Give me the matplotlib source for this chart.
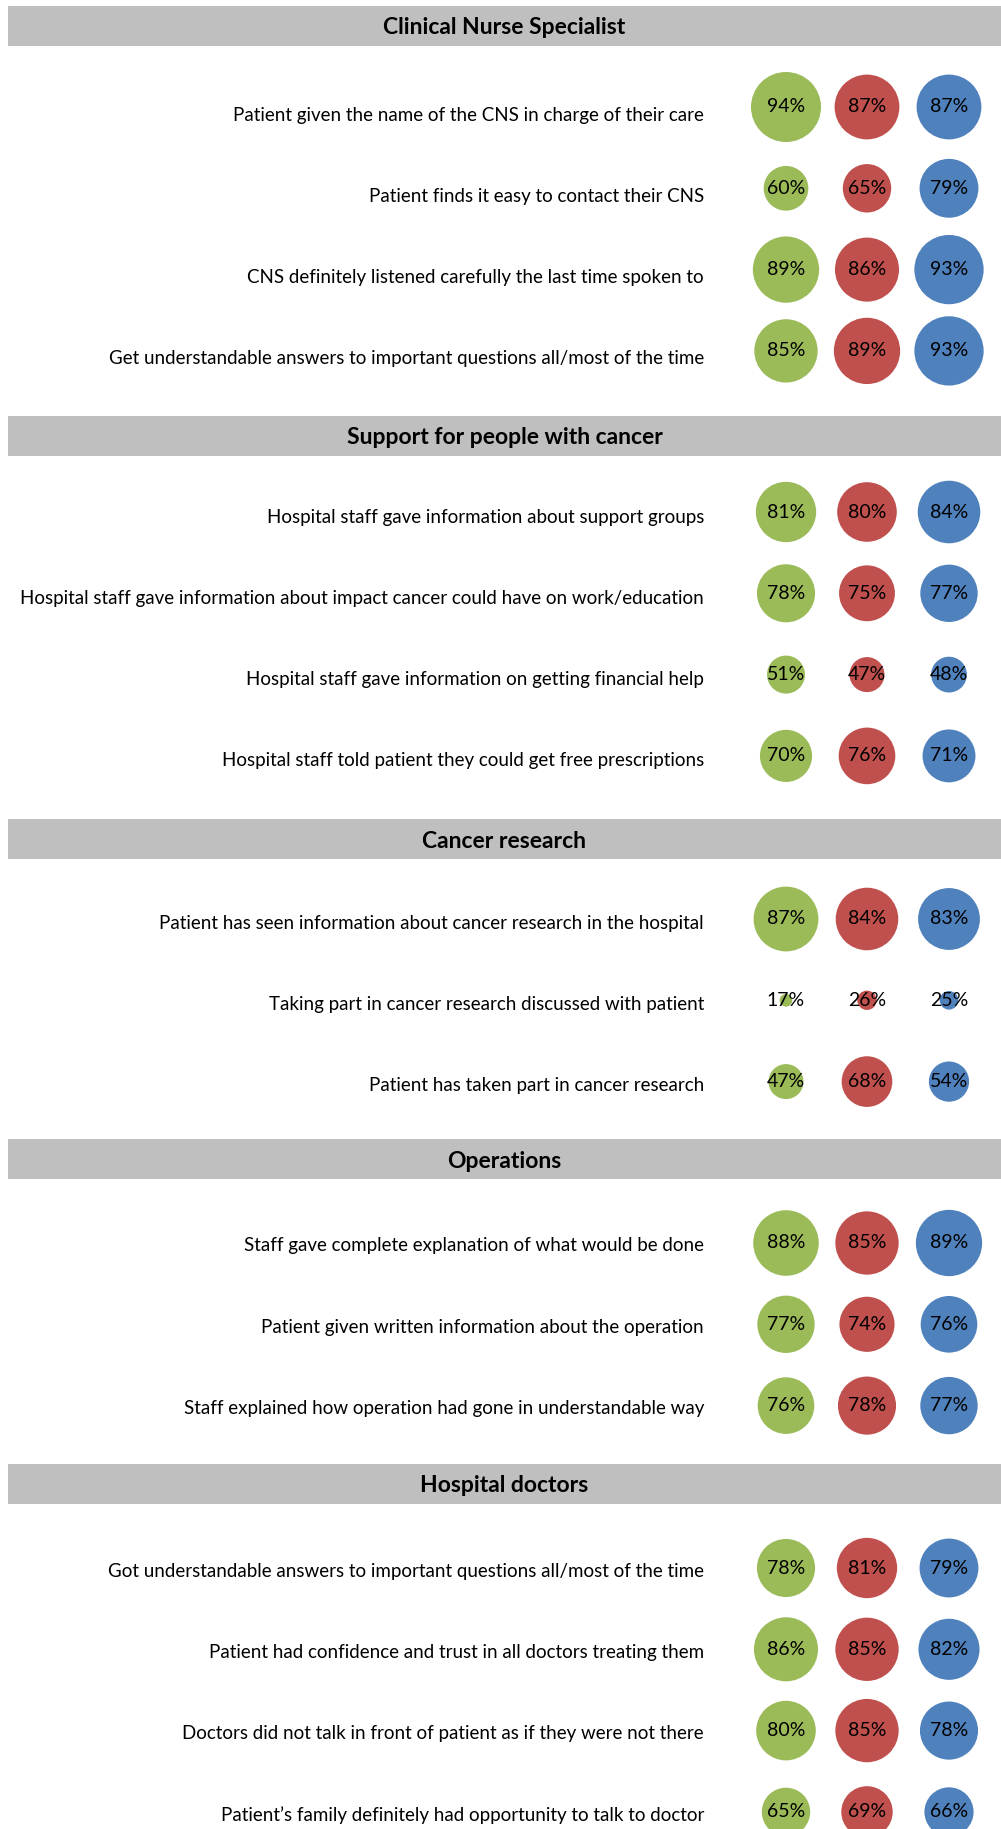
import matplotlib
matplotlib.use("Agg")
import matplotlib.pyplot as plt

# ---------------- data ----------------
sections = [
    "Clinical Nurse Specialist",
    "Support for people with cancer",
    "Cancer research",
    "Operations",
    "Hospital doctors",
]

labels_cns = [
    "Patient given the name of the CNS in charge of their care",
    "Patient finds it easy to contact their CNS",
    "CNS definitely listened carefully the last time spoken to",
    "Get understandable answers to important questions all/most of the time",
]
labels_support = [
    "Hospital staff gave information about support groups",
    "Hospital staff gave information about impact cancer could have on work/education",
    "Hospital staff gave information on getting financial help",
    "Hospital staff told patient they could get free prescriptions",
]
labels_research = [
    "Patient has seen information about cancer research in the hospital",
    "Taking part in cancer research discussed with patient",
    "Patient has taken part in cancer research",
]
labels_operations = [
    "Staff gave complete explanation of what would be done",
    "Patient given written information about the operation",
    "Staff explained how operation had gone in understandable way",
]
labels_doctors = [
    "Got understandable answers to important questions all/most of the time",
    "Patient had confidence and trust in all doctors treating them",
    "Doctors did not talk in front of patient as if they were not there",
    "Patient\u2019s family definitely had opportunity to talk to doctor",
]

green_cns = [94, 60, 89, 85]
red_cns = [87, 65, 86, 89]
blue_cns = [87, 79, 93, 93]

green_support = [81, 78, 51, 70]
red_support = [80, 75, 47, 76]
blue_support = [84, 77, 48, 71]

green_research = [87, 17, 47]
red_research = [84, 26, 68]
blue_research = [83, 25, 54]

green_operations = [88, 77, 76]
red_operations = [85, 74, 78]
blue_operations = [89, 76, 77]

green_doctors = [78, 86, 80, 65]
red_doctors = [81, 85, 85, 69]
blue_doctors = [79, 82, 78, 66]

section_labels = [labels_cns, labels_support, labels_research, labels_operations, labels_doctors]
section_green = [green_cns, green_support, green_research, green_operations, green_doctors]
section_red = [red_cns, red_support, red_research, red_operations, red_doctors]
section_blue = [blue_cns, blue_support, blue_research, blue_operations, blue_doctors]

# ---------------- layout / style ----------------
W, H, DPI = 1001, 1829, 100
header_tops = [6, 416, 819, 1139, 1464]
first_row_offset = [101, 96, 100, 104, 104]
label_dy = [8, 5, 4, 3, 3]
row_pitch = 81.3
header_h = 40
header_left = 8
label_right = 704
header_text_dy = 2
series_x = [786, 867, 949]
series_colors = ["#9bbb59", "#c0504d", "#4f81bd"]
px_per_point = 0.745  # bubble diameter (px) per percentage point

FONT = ["Lato", "DejaVu Sans"]
LABEL_SIZE = 13.5
PCT_SIZE = 14
HEAD_SIZE = 16.5

fig = plt.figure(figsize=(W / DPI, H / DPI), dpi=DPI)
ax = fig.add_axes([0, 0, 1, 1])
ax.set_xlim(0, W)
ax.set_ylim(H, 0)
ax.axis("off")


def size_from_value(v):
    d_pt = v * px_per_point * 72.0 / DPI
    return d_pt ** 2


for si, title in enumerate(sections):
    top = header_tops[si]
    ax.barh(top + header_h / 2, W - header_left, left=header_left, height=header_h,
            color="#bfbfbf", linewidth=0)
    ax.text((header_left + W) / 2, top + header_h / 2 + header_text_dy, title,
            ha="center", va="center", fontsize=HEAD_SIZE, fontweight="bold",
            family=FONT, color="black")
    labels = section_labels[si]
    series = [section_green[si], section_red[si], section_blue[si]]
    ys = [top + first_row_offset[si] + i * row_pitch for i in range(len(labels))]
    for y, lab in zip(ys, labels):
        ax.text(label_right, y + label_dy[si], lab, ha="right", va="center",
                fontsize=LABEL_SIZE, family=FONT, color="black")
    for k, vals in enumerate(series):
        ax.scatter([series_x[k]] * len(vals), ys, s=[size_from_value(v) for v in vals],
                   color=series_colors[k], linewidths=0, zorder=2)
        for y, v in zip(ys, vals):
            ax.text(series_x[k], y, f"{v}%", ha="center", va="center", fontsize=PCT_SIZE,
                    family=FONT, color="black", zorder=3)

fig.savefig("out.png", dpi=DPI)
